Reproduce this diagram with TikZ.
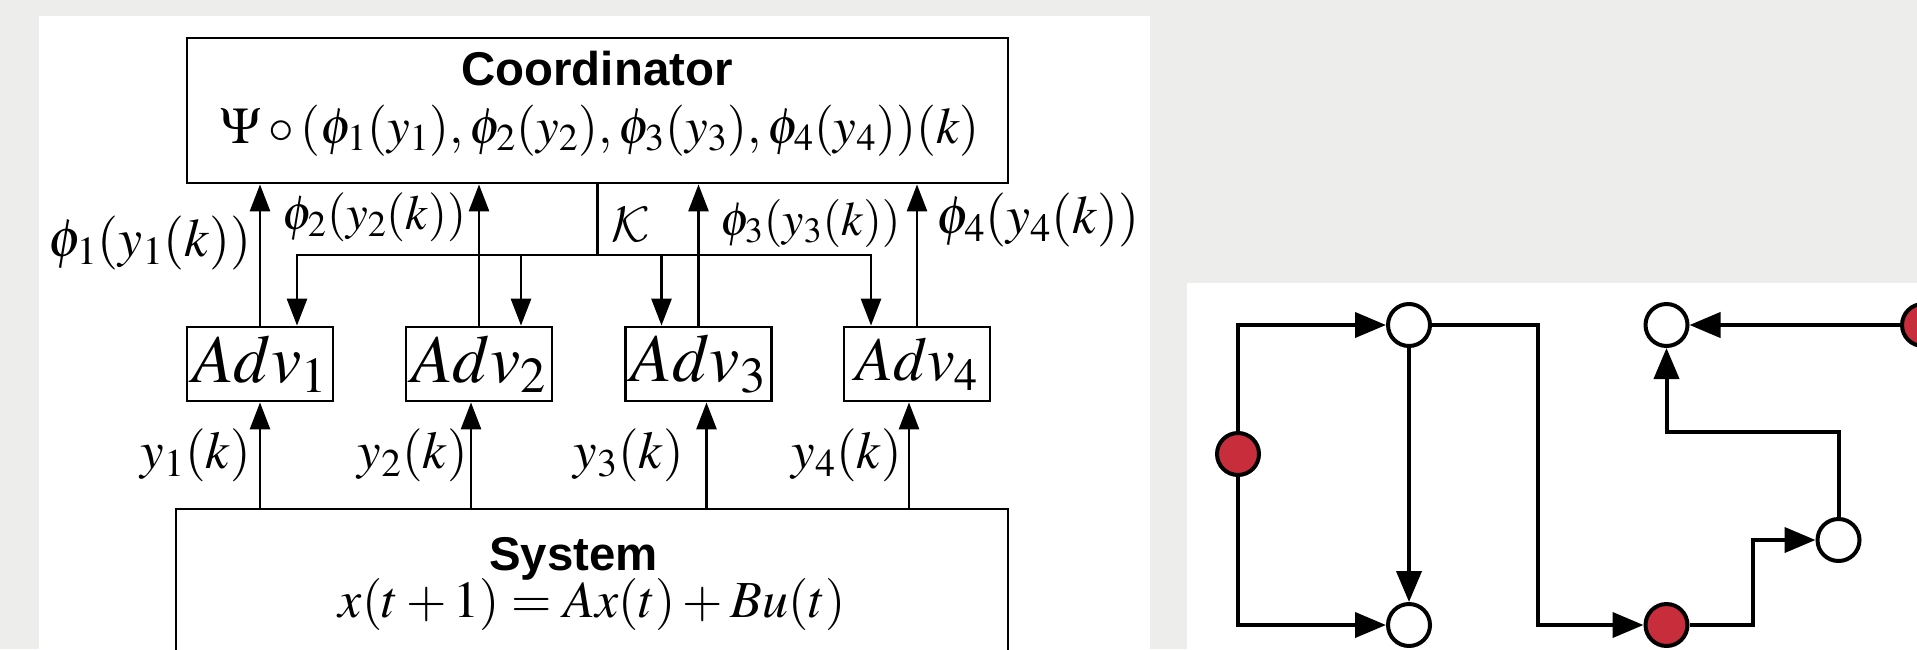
\documentclass[tikz,border=0pt]{standalone}
\usepackage{mathptmx}
\usepackage[no-math]{fontspec}
\setmainfont{Liberation Serif}
\setsansfont{Liberation Sans}
\usetikzlibrary{arrows.meta}
\DeclareMathAlphabet{\mathcalcm}{OMS}{cmsy}{m}{n}
\definecolor{panelgray}{HTML}{EDEDEB}
\definecolor{nodered}{HTML}{C82D3C}
\newcommand{\fsz}[1]{\fontsize{#1}{#1}\selectfont}
\begin{document}
\begin{tikzpicture}[x=0.5pt, y=-0.5pt,
    block/.style={draw, line width=1.4pt, inner sep=0pt},
    flow/.style={line width=1.4pt, -{Triangle[length=13.5pt, width=10pt]}},
    lbl/.style={inner sep=0pt},
    title/.style={anchor=base, font=\sffamily\bfseries\fsz{23.7}},
    gnode/.style={circle, draw, line width=2pt, minimum size=21pt, inner sep=0pt, fill=white},
    gred/.style={gnode, fill=nodered},
    gflow/.style={line width=2pt, -{Triangle[length=15.5pt, width=12.5pt]}}]
    % Panels
    \useasboundingbox (0,0) rectangle (1917,649);
    \fill[panelgray] (0,0) rectangle (1917,649);
    \fill[white] (39,16) rectangle (1150,649);
    \fill[white] (1186.5,283) rectangle (1917,649);
    % Coordinator and system
    \node[block, minimum width=410.5pt, minimum height=72.5pt] (coord) at (597.5,110.5) {};
    \node[title] (coordname) at (597,85) {Coordinator};
    \node[anchor=base, font=\fsz{25.6}] (coordlaw) at (600,143)
        {$\Psi\circ(\phi_1(y_1),\phi_2(y_2),\phi_3(y_3),\phi_4(y_4))(k)$};
    \node[block, minimum width=416pt, minimum height=110pt] (sys) at (592,619) {};
    \node[title] (sysname) at (573.5,570) {System};
    \node[anchor=base, font=\fsz{26}] (syslaw) at (592,617) {$x(t+1)=Ax(t)+Bu(t)$};
    % Advisors
    \foreach \i/\x/\s in {1/260/34, 2/479/34, 3/698.5/34, 4/917/31}
        \node[block, minimum width=73pt, minimum height=37pt, font=\fsz{\s}] (adv\i) at (\x,364) {$Adv_{\i}$};
    % Measurements
    \foreach \i/\dx/\lx in {1/0/251, 2/-4/468, 3/4/684, 4/-4/902} {
        \draw[flow] ([xshift=\dx pt]adv\i.south |- sys.north) -- ([xshift=\dx pt]adv\i.south);
        \node[lbl, anchor=east, font=\fsz{26.5}] (meas\i) at (\lx,455) {$y_{\i}(k)$};
    }
    % Advice to the coordinator
    \foreach \i in {1,...,4}
        \draw[flow] (adv\i.north) -- (adv\i.north |- coord.south);
    \node[lbl, anchor=east, font=\fsz{27}] (adv1lab) at (252,243) {$\phi_1(y_1(k))$};
    \node[lbl, anchor=east, font=\fsz{24.5}] (adv2lab) at (467,217) {$\phi_2(y_2(k))$};
    \node[lbl, anchor=east, font=\fsz{24}] (adv3lab) at (901,223) {$\phi_3(y_3(k))$};
    \node[lbl, anchor=west, font=\fsz{27}] (adv4lab) at (936,220) {$\phi_4(y_4(k))$};
    % Broadcast K
    \coordinate (kbus) at (597.5,255);
    \draw[line width=1.4pt] (coord.south -| kbus) -- (kbus);
    \draw[flow] (kbus) -| ([xshift=18.5pt]adv1.north);
    \draw[flow] (kbus) -| ([xshift=-23pt]adv4.north);
    \draw[flow] ([xshift=21pt]adv2.north |- kbus) -- ([xshift=21pt]adv2.north);
    \draw[flow] ([xshift=-18.5pt]adv3.north |- kbus) -- ([xshift=-18.5pt]adv3.north);
    \node[lbl, font=\fsz{28}] (klab) at (631,224) {$\mathcalcm{K}$};
    % Graph
    \node[gnode] (g1) at (1409,325) {};
    \node[gred] (r1) at (1238,454) {};
    \node[gnode] (g2) at (1409,625) {};
    \node[gnode] (g3) at (1666.5,325) {};
    \node[gred] (r2) at (1666.5,625) {};
    \node[gnode] (g4) at (1838.5,540) {};
    \node[gred] (r3) at (1923,325) {};
    \coordinate (bend1) at (1538,325);
    \coordinate (bend2) at (1752.5,625);
    \coordinate (bend3) at (1666.5,432);
    \draw[gflow] (r1) |- (g1);
    \draw[gflow] (r1) |- (g2);
    \draw[gflow] (g1) -- (g2);
    \draw[gflow] (g1) -- (bend1) |- (r2);
    \draw[gflow] (r2) -- (bend2) |- (g4);
    \draw[gflow] (g4) |- (bend3) -- (g3);
    \draw[gflow] (r3) -- (g3);
\end{tikzpicture}
\end{document}
